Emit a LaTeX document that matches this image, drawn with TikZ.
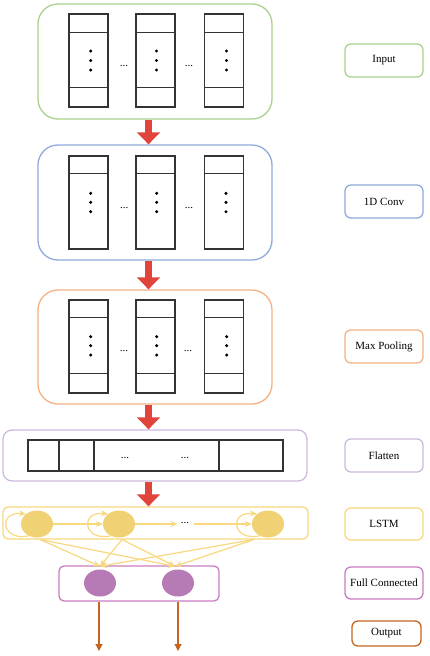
\documentclass[tikz,border=0pt]{standalone}
\usepackage{fontspec}
\setmainfont{Liberation Serif}
\usetikzlibrary{arrows.meta,shapes.geometric}
\definecolor{cgreen}{HTML}{A9D18E}
\definecolor{cblue}{HTML}{8FAADC}
\definecolor{corange}{HTML}{F4B183}
\definecolor{clav}{HTML}{CDB9DD}
\definecolor{cyel}{HTML}{F7D87E}
\definecolor{cyelfill}{HTML}{F0D274}
\definecolor{cmag}{HTML}{C77CC0}
\definecolor{cmagfill}{HTML}{B67AB4}
\definecolor{cbrown}{HTML}{C5651F}
\definecolor{cred}{HTML}{E0443A}
\definecolor{cgrey}{HTML}{333333}
\begin{document}
\begin{tikzpicture}[x=1pt,y=-1pt,
  font=\fontsize{11}{13}\selectfont,
  panel/.style={draw, line width=1.3pt, rounded corners=20pt, inner sep=0pt},
  smallpanel/.style={draw, line width=1.3pt, rounded corners=6pt, inner sep=0pt},
  labelbox/.style={draw, line width=1.3pt, rounded corners=6pt, minimum width=78pt, minimum height=33pt, inner sep=0pt},
  colbox/.style={draw=cgrey, line width=1.4pt, minimum width=39pt, minimum height=93pt, inner sep=0pt},
  colline/.style={draw=cgrey, line width=1.4pt},
  hdots/.style={inner sep=0pt, font=\fontsize{11}{13}\selectfont},
  bigarrow/.style={draw=cred, line width=7.7pt, -{Triangle[width=22.6pt,length=12pt]}, cred},
  lcirc/.style={ellipse, fill=cyelfill, minimum width=32pt, minimum height=27pt, inner sep=0pt},
  fcirc/.style={ellipse, fill=cmagfill, minimum width=32pt, minimum height=27pt, inner sep=0pt},
  yarrow/.style={draw=cyel, line width=1.2pt, -{Stealth[length=7pt,width=6pt]}, cyel},
  oarrow/.style={draw=cbrown, line width=1.2pt, -{Triangle[width=7pt,length=7pt]}, cbrown}
]
\useasboundingbox (0,0) rectangle (430,656);

% ---------- panels ----------
\node[panel, draw=cgreen, minimum width=234pt, minimum height=115pt] (pin) at (155,61.5) {};
\node[panel, draw=cblue, minimum width=234pt, minimum height=115pt] (pconv) at (155,202.5) {};
\node[panel, draw=corange, minimum width=234pt, minimum height=114pt] (ppool) at (155,347) {};
\node[smallpanel, draw=clav, rounded corners=9pt, minimum width=304pt, minimum height=51pt] (pflat) at (155,455.5) {};
\node[smallpanel, draw=cyel, rounded corners=5pt, minimum width=305pt, minimum height=32pt] (plstm) at (155.5,523) {};
\node[smallpanel, draw=cmag, rounded corners=5pt, minimum width=160pt, minimum height=35pt] (pfc) at (139,583.5) {};

% ---------- input columns ----------
\foreach \i/\x/\d in {1/88.5/90.7,2/155.5/156.5,3/224/226.5}{
  \node[colbox] (in\i) at (\x,60.5) {};
  \draw[colline] ([yshift=-19pt]in\i.north west) -- ([yshift=-19pt]in\i.north east);
  \draw[colline] ([yshift=20pt]in\i.south west) -- ([yshift=20pt]in\i.south east);
  \fill[black] (\d,51) circle[radius=1.7pt] (\d,60.5) circle[radius=1.7pt] (\d,70) circle[radius=1.7pt];
}
\node[hdots] (ind1) at (124,66) {...};
\node[hdots] (ind2) at (189,66) {...};

% ---------- conv columns ----------
\foreach \i/\x/\d in {1/88.5/90.7,2/155.5/156.7,3/224/226}{
  \node[colbox] (cv\i) at (\x,202.5) {};
  \draw[colline] ([yshift=-18pt]cv\i.north west) -- ([yshift=-18pt]cv\i.north east);
  \fill[black] (\d,193.3) circle[radius=1.7pt] (\d,202.3) circle[radius=1.7pt] (\d,211.7) circle[radius=1.7pt];
}
\node[hdots] (cvd1) at (124.3,208.5) {...};
\node[hdots] (cvd2) at (189,208.5) {...};

% ---------- pool columns ----------
\foreach \i/\x/\d in {1/88.5/90.7,2/155.5/156.7,3/224/226.7}{
  \node[colbox] (pl\i) at (\x,346.5) {};
  \draw[colline] ([yshift=-18pt]pl\i.north west) -- ([yshift=-18pt]pl\i.north east);
  \draw[colline] ([yshift=20pt]pl\i.south west) -- ([yshift=20pt]pl\i.south east);
  \fill[black] (\d,336.7) circle[radius=1.7pt] (\d,345.7) circle[radius=1.7pt] (\d,355) circle[radius=1.7pt];
}
\node[hdots] (pld1) at (124,351.2) {...};
\node[hdots] (pld2) at (188,351.2) {...};

% ---------- flatten ----------
\node[draw=cgrey, line width=1.4pt, minimum width=255pt, minimum height=31pt, inner sep=0pt] (fr) at (155.5,455.5) {};
\foreach \x in {59,94,219}{
  \coordinate (fx) at (\x,455.5);
  \draw[colline] (fx |- fr.north) -- (fx |- fr.south);
}
\node[hdots] (frd1) at (125,457.5) {...};
\node[hdots] (frd2) at (185,457.5) {...};

% ---------- big red arrows ----------
\draw[bigarrow] ([xshift=-6.5pt]pin.south) -- ([xshift=-6.5pt]pconv.north);
\draw[bigarrow] ([xshift=-6.5pt]pconv.south) -- ([xshift=-6.5pt]ppool.north);
\draw[bigarrow] ([xshift=-6.5pt]ppool.south) -- ([xshift=-6.5pt]pflat.north);
\draw[bigarrow] ([xshift=-6.5pt]pflat.south) -- ([xshift=-7pt]plstm.north);

% ---------- LSTM ----------
\node[lcirc] (l1) at (37,524) {};
\node[lcirc] (l2) at (119,524) {};
\node[lcirc] (l3) at (268,524) {};
\node[hdots] (ld) at (185,522.5) {...};
\foreach \n in {l1,l2,l3}{
  \draw[yarrow] (\n.235) .. controls +(-28,6) and +(-28,-3) .. (\n.138);
}
\draw[yarrow] (l1.east) -- (l2.west);
\draw[yarrow] (l2.east) -- ([xshift=-3pt]ld.west |- l2.east);
\draw[yarrow] ([xshift=5pt]ld.east |- l3.west) -- (l3.west);

% ---------- Full connected ----------
\node[fcirc] (f1) at (100,583) {};
\node[fcirc] (f2) at (178,583) {};
\coordinate (s1) at (40,539.5);
\coordinate (s2) at (122,539.5);
\coordinate (s3) at (254,539.5);
\foreach \s in {s1,s2,s3}{
  \draw[yarrow] (\s) -- ([yshift=3pt]f1.north);
  \draw[yarrow] (\s) -- ([xshift=-3pt,yshift=3pt]f2.north);
}

% ---------- outputs ----------
\coordinate (o1) at (99,651);
\coordinate (o2) at (178,651);
\draw[oarrow] (o1 |- pfc.south) -- (o1);
\draw[oarrow] (o2 |- pfc.south) -- (o2);

% ---------- legend labels ----------
\node[labelbox, draw=cgreen] (lbin) at (384,60.5) {Input};
\node[labelbox, draw=cblue] (lbconv) at (384,201.5) {1D Conv};
\node[labelbox, draw=corange] (lbpool) at (384,346.5) {Max Pooling};
\node[labelbox, draw=clav] (lbflat) at (384,455.5) {Flatten};
\node[labelbox, draw=cyel, minimum height=32pt] (lblstm) at (384,524) {LSTM};
\node[labelbox, draw=cmag, minimum height=32pt] (lbfc) at (384,583) {Full Connected};
\node[labelbox, draw=cbrown, minimum width=69pt, minimum height=25pt] (lbout) at (386.5,633.5) {Output};
\end{tikzpicture}
\end{document}
